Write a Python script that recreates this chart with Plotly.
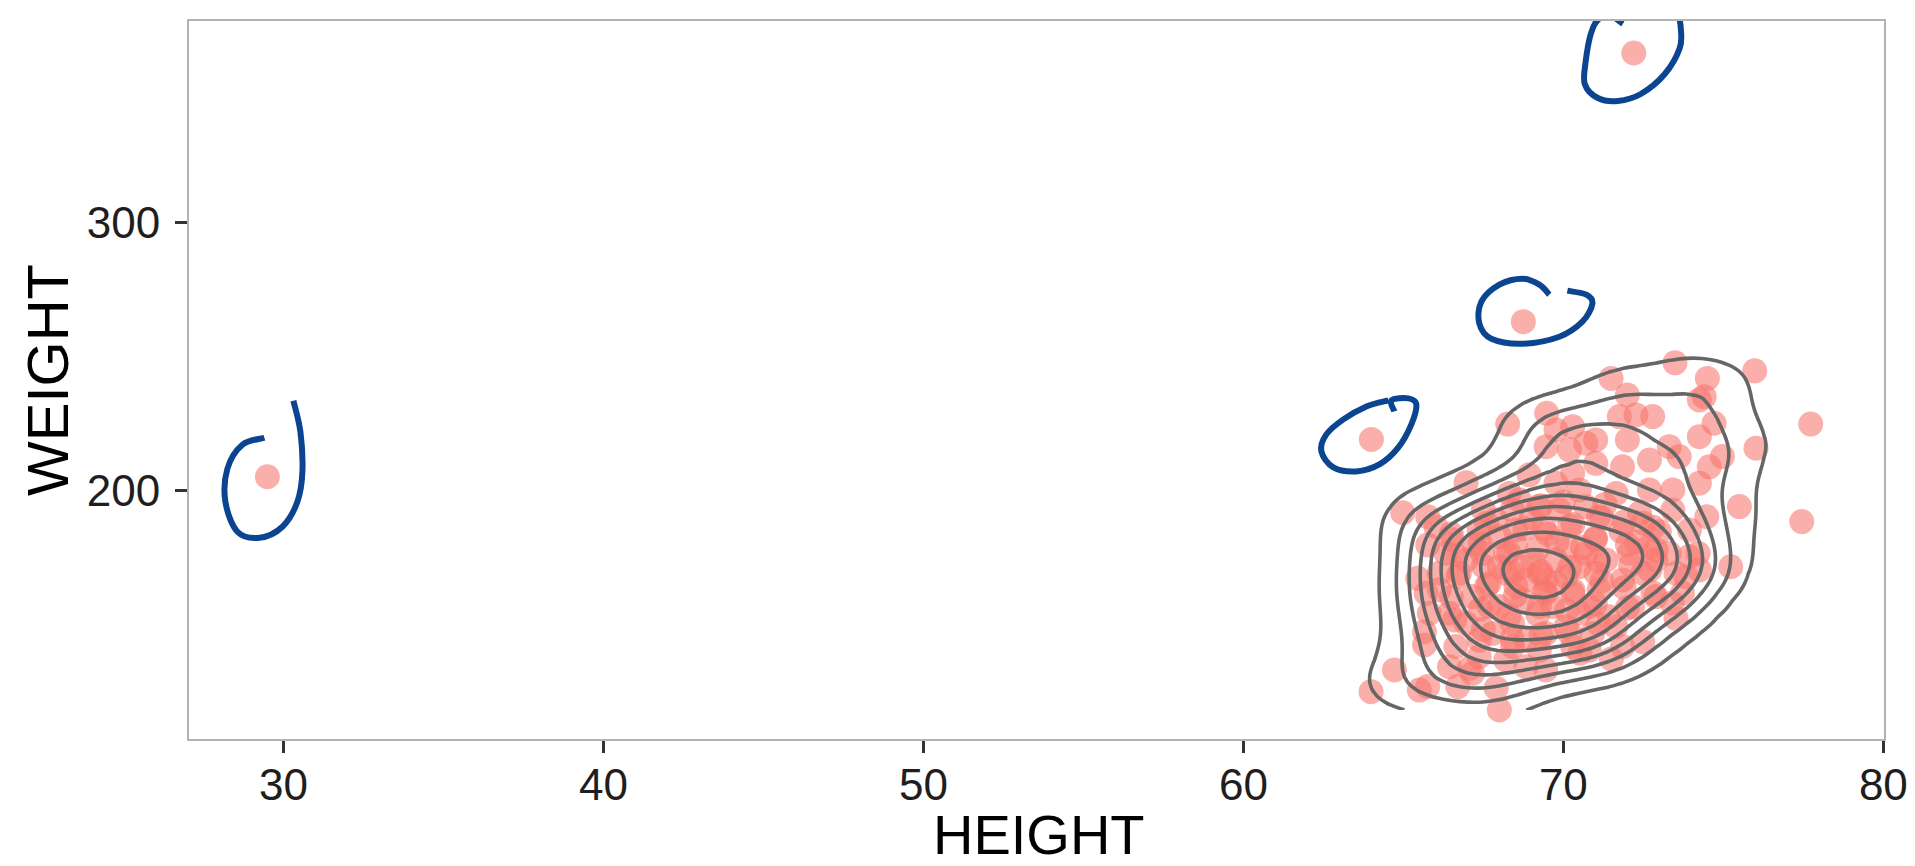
import numpy as np
import plotly.graph_objects as go

# ---------------- data ----------------
height = [
    29.5, 72.2, 68.75, 64.0,
    # upper-left part of the cloud
    68.26, 69.48, 69.77, 70.29, 66.96, 64.98, 65.76, 66.02, 68.93, 68.31, 69.77, 70.5,
    69.46, 70.19, 70.7, 70.29, 70.7, 67.37, 67.9, 69.24, 68.62, 69.87,
    # upper-right part
    73.49, 75.98, 77.73, 77.45, 71.49, 74.5, 74.4, 74.25, 72.0, 71.75, 72.79, 72.27,
    74.71, 74.25, 76.02, 73.31, 72.0, 71.01, 74.97, 74.56, 73.62, 72.69, 71.85, 71.01,
    75.5, 74.25, 73.42, 72.69, 71.65, 74.48, 73.42, 72.38, 71.1, 73.94, 73.0,
    # lower-left part
    65.76, 65.45, 65.71, 65.66, 65.66, 64.72, 63.99, 65.5, 65.76, 66.7, 67.06, 68.0, 67.9,
    66.12, 66.44, 66.96, 67.37, 67.16, 67.68, 68.0, 68.41, 68.83, 69.25, 69.45, 68.2,
    68.83, 69.25, 69.77, 70.29, 70.5, 70.08, 69.66, 67.37, 68.2, 68.83, 69.45, 70.29,
    66.64, 66.44, 66.75, 66.96, 67.48, 68.2, 69.04, 69.77, 70.5, 70.7, 66.33, 66.12,
    67.68, 68.73, 69.25, 68.52, 69.45, 68.0, 68.73, 69.45, 70.08, 68.41, 67.79, 67.16, 65.81,
    # lower-right part
    75.23, 74.25, 73.72, 73.52, 72.48, 73.83,
    71.33, 72.06, 72.68, 71.12, 71.85, 72.48, 72.89, 71.43, 72.16, 72.89, 70.91, 71.64,
    73.31, 73.52, 71.02, 70.81, 71.85, 73.93, 70.52, 70.81, 71.5, 73.4,
    # middle band
    66.5, 67.2, 68.0, 68.8, 69.5, 70.2, 71.0, 71.8, 72.5, 69.0, 70.0, 71.3, 67.5, 68.5,
    70.6, 69.8, 72.3, 74.21,
    # solid central patch
    66.6, 66.5, 66.7, 66.6, 66.5,
    67.5, 67.4, 67.6, 67.5, 67.4, 67.6,
    68.4, 68.3, 68.5, 68.4, 68.3, 68.5, 68.4,
    69.3, 69.2, 69.4, 69.3, 69.2, 69.4, 69.3,
    70.2, 70.1, 70.3, 70.2, 70.1, 70.3,
    71.1, 71.0, 71.2, 71.1, 71.0, 71.2,
    72.0, 71.9, 72.1, 72.0, 71.9,
    72.8, 72.7, 72.9, 72.8,
]
weight = [
    205.3, 363.0, 263.0, 219.2,
    224.9, 228.9, 222.7, 223.9, 203.1, 191.9, 190.4, 186.7, 206.0, 199.1, 202.9, 200.4,
    216.5, 215.3, 217.8, 206.6, 194.2, 185.5, 189.2, 194.2, 196.7, 192.9,
    247.7, 244.7, 224.9, 188.6, 241.9, 241.9, 235.1, 233.9, 235.7, 227.7, 227.7, 228.3,
    225.2, 220.2, 215.9, 216.5, 219.0, 219.0, 212.8, 209.0, 212.8, 211.5, 209.0, 210.3,
    194.2, 202.9, 200.4, 200.4, 199.1, 190.4, 192.9, 191.7, 190.4, 185.5, 184.9,
    179.9, 167.5, 161.9, 147.6, 142.7, 133.4, 125.3, 125.9, 127.2, 127.2, 134.0, 118.5, 126.6,
    163.2, 154.5, 150.7, 144.5, 160.7, 165.6, 157.0, 150.7, 144.5, 140.8, 147.0, 169.4,
    166.9, 169.4, 165.6, 161.9, 154.5, 149.5, 157.0, 138.3, 137.1, 134.6, 133.4, 142.1,
    142.1, 134.6, 169.4, 174.3, 176.8, 176.8, 174.3, 174.3, 171.8, 176.8, 176.8, 169.4,
    157.0, 159.4, 157.0, 164.4, 161.9, 171.8, 171.8, 166.9, 168.1, 142.1, 147.0, 132.1, 154.5,
    171.8, 170.6, 161.9, 152.6, 143.9, 168.1,
    174.3, 176.8, 179.3, 163.2, 166.9, 169.4, 174.3, 153.2, 156.9, 160.7, 147.0, 149.5,
    176.8, 169.4, 169.4, 157.0, 142.1, 175.6, 139.6, 140.8, 137.5, 158.3,
    182.0, 180.0, 183.0, 186.0, 184.0, 187.0, 182.0, 185.0, 188.0, 190.0, 196.0, 195.0, 193.0, 180.0,
    179.0, 181.0, 181.0, 176.8,
    152.0, 160.5, 168.0, 176.5, 184.0,
    148.5, 156.0, 164.5, 172.0, 180.5, 188.0,
    145.0, 153.5, 161.0, 169.5, 177.0, 185.5, 193.0,
    146.5, 154.0, 162.5, 170.0, 178.5, 186.0, 194.5,
    147.0, 155.5, 163.0, 171.5, 179.0, 187.5,
    150.5, 158.0, 166.5, 174.0, 182.5, 190.0,
    156.5, 164.0, 172.5, 180.0, 188.5,
    162.0, 170.5, 178.0, 186.5,
]

x_ticks = [30, 40, 50, 60, 70, 80]
y_ticks = [200, 300]
x_title = "HEIGHT"
y_title = "WEIGHT"

# hand-drawn marks around the four outliers (pixel offsets, screen y down)
outliers = [(29.5, 205.3), (72.2, 363.0), (68.75, 263.0), (64.0, 219.2)]
scribbles = [
    [(-3, -39), (-25, -32), (-40, -8), (-42, 25), (-30, 55), (-8, 61), (15, 50), (30, 25), (35, -5), (33, -45), (26, -76)],
    [(-11, -29), (-23, -37), (-36, -33), (-43, -19), (-48, 8), (-49, 31), (-36, 45), (-16, 48), (7, 41), (31, 21), (46, -5), (47, -25), (44, -43)],
    [(26, -27), (16, -37), (-1, -43), (-24, -37), (-42, -20), (-44, 2), (-32, 17), (-1, 22), (36, 15), (59, 0), (69, -18), (63, -27), (44, -31)],
    [(23, -28), (20, -39), (37, -41), (45, -35), (40, -15), (27, 8), (8, 25), (-15, 32), (-38, 28), (-50, 12), (-45, -5), (-28, -20), (-5, -33), (17, -39)],
]

# ---------------- 2-D kernel density (as MASS::kde2d) ----------------
x = np.array(height, float)
y = np.array(weight, float)
n = len(x)


def bw_nrd(v):
    q75, q25 = np.percentile(v, [75, 25])
    return 4 * 1.06 * min(np.std(v, ddof=1), (q75 - q25) / 1.34) * len(v) ** (-0.2)


def npdf(u):
    return np.exp(-0.5 * u * u) / np.sqrt(2 * np.pi)


gx = np.linspace(x.min(), x.max(), 100)
gy = np.linspace(y.min(), y.max(), 100)
hx = bw_nrd(x) / 4
hy = bw_nrd(y) / 4
ax = npdf((gx[:, None] - x[None, :]) / hx)
ay = npdf((gy[:, None] - y[None, :]) / hy)
z = (ax @ ay.T) / (n * hx * hy)  # z[i, j] -> gx[i], gy[j]

# ten evenly spaced iso-density levels below the peak
step = z.max() / 10.6
lev = step * np.arange(1, 11)

# ---------------- figure ----------------
fig = go.Figure()
fig.add_trace(go.Scatter(
    x=height, y=weight, mode="markers",
    marker=dict(color="#F8766D", size=25, opacity=0.58, line=dict(width=0)),
    hoverinfo="skip", showlegend=False,
))
fig.add_trace(go.Contour(
    x=gx, y=gy, z=z.T, xaxis="x2", yaxis="y2",
    contours=dict(coloring="none", start=float(lev[0]), end=float(lev[-1]), size=float(step)),
    line=dict(color="#666666", width=3.6, smoothing=1),
    showscale=False, hoverinfo="skip",
))


def smooth_path(pts):
    p = [pts[0]] + list(pts) + [pts[-1]]
    d = "M%.1f,%.1f" % (p[1][0], -p[1][1])
    for i in range(1, len(p) - 2):
        p0, p1, p2, p3 = p[i - 1], p[i], p[i + 1], p[i + 2]
        c1 = (p1[0] + (p2[0] - p0[0]) / 6, p1[1] + (p2[1] - p0[1]) / 6)
        c2 = (p2[0] - (p3[0] - p1[0]) / 6, p2[1] - (p3[1] - p1[1]) / 6)
        d += " C%.1f,%.1f %.1f,%.1f %.1f,%.1f" % (c1[0], -c1[1], c2[0], -c2[1], p2[0], -p2[1])
    return d


shapes = []
for (ox, oy), pts in zip(outliers, scribbles):
    shapes.append(dict(
        type="path", xref="x", yref="y", xsizemode="pixel", ysizemode="pixel",
        xanchor=ox, yanchor=oy, path=smooth_path(pts),
        line=dict(color="#0B4591", width=6), layer="above",
    ))

W, H = 1915, 866
ML, MR, MT, MB = 189, 31, 21, 127
PW, PH = W - ML - MR, H - MT - MB

xr = [27.05, 80.02]
yr = [107.7, 374.9]
tickfont = dict(family="Liberation Sans, Arial, sans-serif", size=44, color="#1e1e1e")

annotations = [
    dict(text=x_title, xref="paper", yref="paper", x=(1039 - ML) / PW, y=-(MB + 2) / PH,
         xanchor="center", yanchor="bottom", showarrow=False,
         font=dict(family="Liberation Sans, Arial, sans-serif", size=56, color="#000000")),
    dict(text=y_title, xref="paper", yref="paper", x=(47 - ML) / PW, y=0.5,
         xanchor="center", yanchor="middle", textangle=-90, showarrow=False,
         font=dict(family="Liberation Sans, Arial, sans-serif", size=58, color="#000000")),
]

fig.update_layout(
    width=W, height=H,
    margin=dict(l=ML, r=MR, t=MT, b=MB),
    paper_bgcolor="white", plot_bgcolor="white",
    showlegend=False,
    shapes=shapes,
    annotations=annotations,
    xaxis=dict(
        range=xr, tickvals=x_ticks, ticktext=[str(v) for v in x_ticks],
        automargin=False, showgrid=False, zeroline=False,
        showline=True, mirror=True, linecolor="#b3b3b3", linewidth=2,
        ticks="outside", ticklen=12, tickwidth=2.5, tickcolor="#333333",
        tickfont=tickfont, ticklabelstandoff=-6,
    ),
    yaxis=dict(
        range=yr, tickvals=y_ticks, ticktext=[str(v) for v in y_ticks],
        automargin=False, showgrid=False, zeroline=False,
        showline=True, mirror=True, linecolor="#b3b3b3", linewidth=2,
        ticks="outside", ticklen=12, tickwidth=2.5, tickcolor="#333333",
        tickfont=tickfont, ticklabelstandoff=6,
    ),
    xaxis2=dict(range=xr, overlaying="x", visible=False),
    yaxis2=dict(range=yr, overlaying="y", visible=False),
)

fig.write_html("out.html", config={"displayModeBar": False},
               post_script="document.body.style.margin='0';")
